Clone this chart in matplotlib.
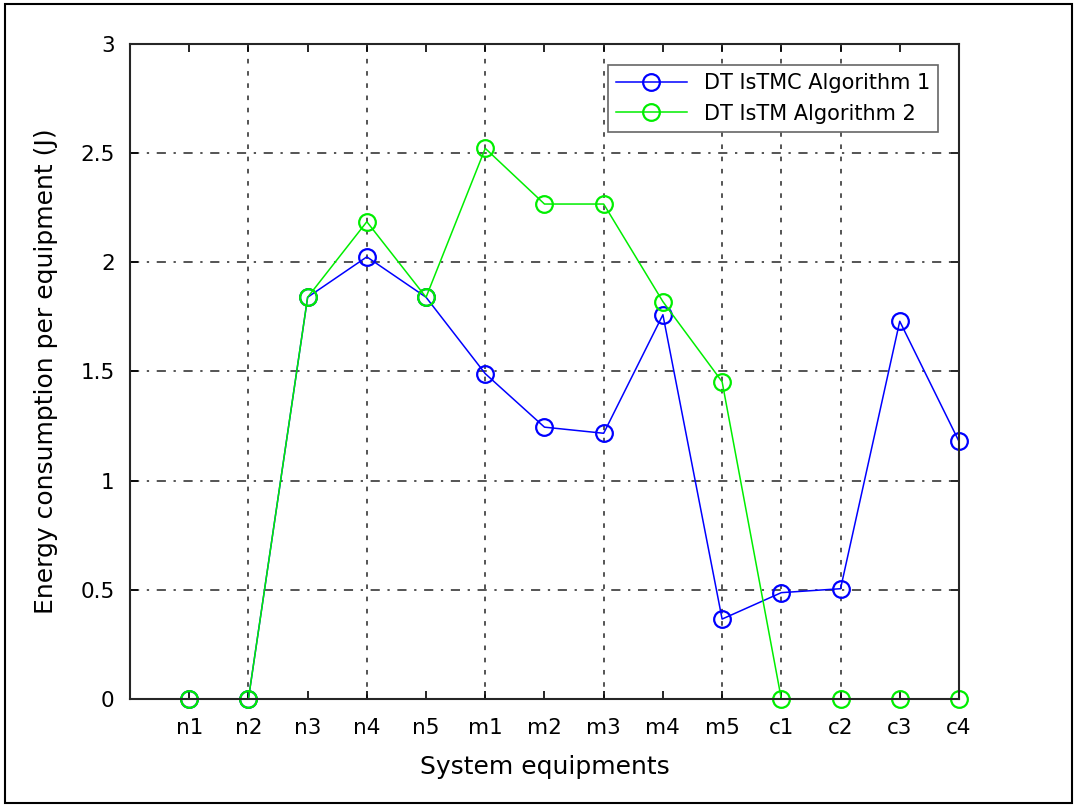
import matplotlib.pyplot as plt
from matplotlib.patches import Rectangle

equipments = ['n1', 'n2', 'n3', 'n4', 'n5', 'm1', 'm2', 'm3', 'm4', 'm5',
              'c1', 'c2', 'c3', 'c4']
algo1 = [0, 0, 1.84, 2.025, 1.84, 1.49, 1.245, 1.217, 1.76, 0.366,
         0.487, 0.505, 1.73, 1.18]
algo2 = [0, 0, 1.84, 2.186, 1.84, 2.522, 2.267, 2.267, 1.82, 1.453,
         0, 0, 0, 0]
yticks = [0, 0.5, 1, 1.5, 2, 2.5, 3]
ytick_labels = ['0', '0.5', '1', '1.5', '2', '2.5', '3']
vgrid_at = [2, 4, 6, 8, 10, 11, 12]

fig = plt.figure(figsize=(10.77, 8.06), dpi=100)
ax = fig.add_axes([0.1207, 0.1328, 0.7697, 0.8126])

x = list(range(1, len(equipments) + 1))
ax.plot(x, algo1, color='#0000ff', marker='o', markersize=12, markerfacecolor='none',
        markeredgewidth=1.6, linewidth=1.1, label='DT IsTMC Algorithm 1', clip_on=False)
ax.plot(x, algo2, color='#00ee00', marker='o', markersize=12, markerfacecolor='none',
        markeredgewidth=1.6, linewidth=1.1, label='DT IsTM Algorithm 2', clip_on=False)

ax.set_xlim(0, 14)
ax.set_ylim(0, 3)
ax.set_xticks(x)
ax.set_xticklabels(equipments, fontsize=15.5)
ax.set_yticks(yticks)
ax.set_yticklabels(ytick_labels, fontsize=15.5)
ax.tick_params(direction='in', top=True, right=True, length=6, width=1.2)
ax.tick_params(axis='x', pad=14)
ax.tick_params(axis='y', pad=11)

# grid lines drawn by hand (only some verticals show in the original)
for gx in vgrid_at:
    ax.axvline(gx, color='0.15', linestyle=(0, (3, 5)), linewidth=1.1, zorder=0)
for gy in yticks[1:-1]:
    ax.axhline(gy, color='0.15', linestyle=(0, (6, 5, 1.5, 5)), linewidth=1.1, zorder=0)

for s in ax.spines.values():
    s.set_linewidth(1.5)
    s.set_color('0.15')

ax.set_xlabel('System equipments', fontsize=18, labelpad=12)
ax.set_ylabel('Energy consumption per equipment (J)', fontsize=18, labelpad=16)

leg = ax.legend(loc='upper right', fontsize=15, handlelength=3.4, borderaxespad=1.0,
                fancybox=False, framealpha=1, edgecolor='0.4')
leg.get_frame().set_linewidth(1.2)

fig.patches.append(Rectangle((0.005, 0.004), 0.99, 0.991, transform=fig.transFigure,
                             fill=False, edgecolor='black', linewidth=1.5))

fig.savefig('out.png', dpi=100)
